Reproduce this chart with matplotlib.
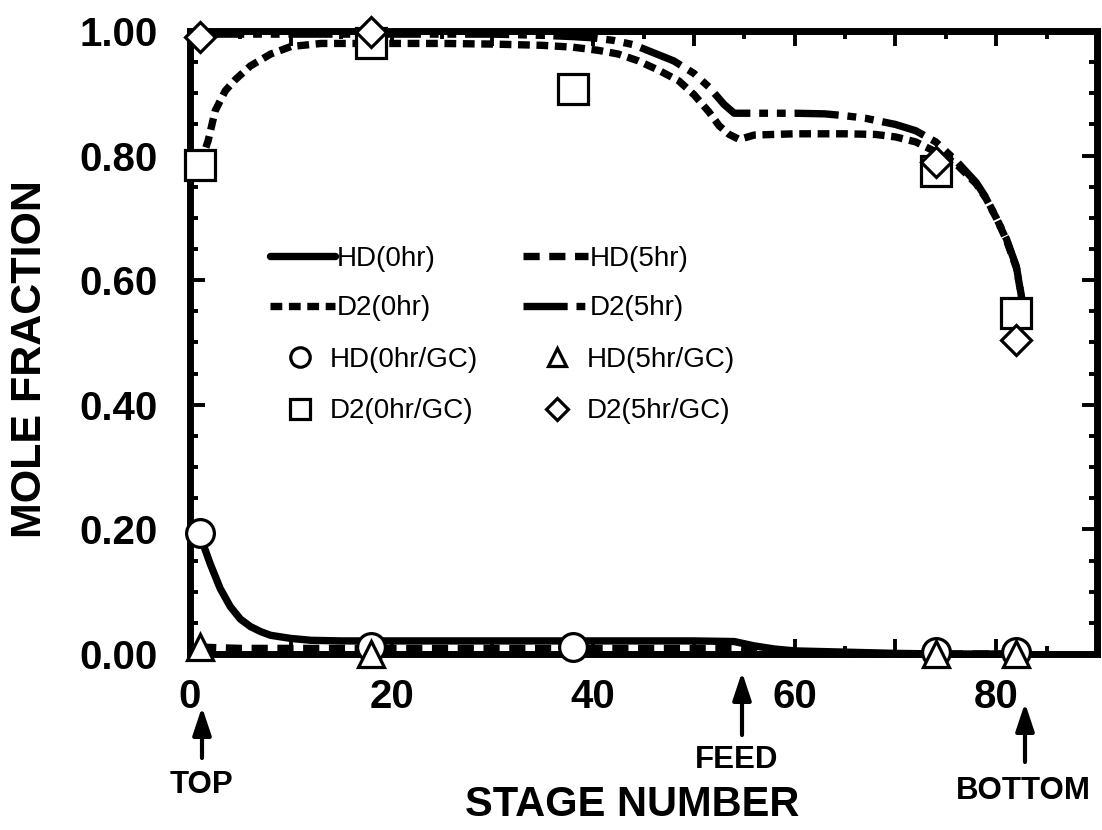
import numpy as np
import matplotlib
matplotlib.use("Agg")
import matplotlib.pyplot as plt
from matplotlib.ticker import MultipleLocator, FuncFormatter

plt.rcParams['font.family'] = ['Liberation Sans', 'DejaVu Sans']

# ---------------- data ----------------
hd0_x = [1, 2, 3, 4, 5, 6, 7, 8, 10, 12, 15, 20, 30, 40, 50, 54, 56, 58, 60, 65, 70, 75, 80, 83]
hd0_y = [0.19, 0.145, 0.105, 0.076, 0.056, 0.044, 0.036, 0.030, 0.025, 0.022, 0.021, 0.021, 0.021,
         0.021, 0.021, 0.020, 0.013, 0.008, 0.005, 0.003, 0.001, 0.0, 0.0, 0.0]

hd5_x = [1, 5, 10, 20, 30, 40, 50, 54, 56, 58, 60, 70, 83]
hd5_y = [0.011, 0.009, 0.009, 0.009, 0.009, 0.009, 0.009, 0.009, 0.006, 0.003, 0.001, 0.0, 0.0]

d20_x = [1, 1.8, 2.5, 3.5, 4.5, 6, 8, 10, 13, 18, 25, 30, 35, 38, 40.5, 42.5, 44.5, 46.5, 48.5,
         50, 51.5, 52.5, 53.5, 54.5, 56, 60, 65, 68, 70, 72, 74, 76, 78, 79, 80, 81, 82, 82.6]
d20_y = [0.785, 0.824, 0.872, 0.904, 0.922, 0.944, 0.963, 0.975, 0.98, 0.98, 0.98, 0.979, 0.977,
         0.974, 0.969, 0.963, 0.952, 0.937, 0.92, 0.898, 0.87, 0.848, 0.834, 0.826, 0.833, 0.835,
         0.835, 0.834, 0.830, 0.822, 0.806, 0.787, 0.755, 0.731, 0.700, 0.665, 0.620, 0.565]

d25_x = [1, 5, 10, 20, 30, 35, 38, 40, 42, 44, 46, 48, 50, 51.5, 53, 54, 56, 60, 63, 65, 67, 70,
         72, 74, 76, 78, 79, 80, 81, 82, 82.6]
d25_y = [0.995, 0.995, 0.995, 0.995, 0.995, 0.993, 0.991, 0.989, 0.985, 0.978, 0.965, 0.952, 0.932,
         0.91, 0.882, 0.868, 0.868, 0.868, 0.867, 0.864, 0.860, 0.850, 0.840, 0.822, 0.792, 0.757,
         0.732, 0.700, 0.667, 0.622, 0.565]

hd0_gc_x = [1, 18, 38, 74, 82]
hd0_gc_y = [0.195, 0.011, 0.012, 0.003, 0.003]
hd5_gc_x = [1, 18, 74, 82]
hd5_gc_y = [0.012, 0.0, 0.0, 0.0]
d20_gc_x = [1, 18, 38, 74, 82]
d20_gc_y = [0.785, 0.98, 0.907, 0.776, 0.547]
d25_gc_x = [1, 18, 74, 82]
d25_gc_y = [0.99, 0.998, 0.789, 0.504]

x_major = [0, 20, 40, 60, 80]

# ---------------- figure ----------------
W, H = 1102, 830
fig = plt.figure(figsize=(W / 100, H / 100), dpi=100)
fig.patch.set_facecolor('white')
ax = fig.add_axes([190 / W, 1 - 654 / H, 907 / W, 623 / H])

LW = 5.3
l_hd0, = ax.plot(hd0_x, hd0_y, color='black', lw=LW, solid_capstyle='round', clip_on=False, zorder=3)
l_hd5, = ax.plot(hd5_x, hd5_y, color='black', lw=LW, dashes=(2.2, 1.3), dash_capstyle='butt',
                 clip_on=False, zorder=3)
l_d20, = ax.plot(d20_x, d20_y, color='black', lw=LW, dashes=(1.6, 0.9), dash_capstyle='butt',
                 clip_on=False, zorder=3)
l_d25, = ax.plot(d25_x, d25_y, color='black', lw=LW, dashes=(6, 1.2, 1.2, 1.2, 1.2, 1.2),
                 dash_capstyle='butt', clip_on=False, zorder=3)

mk = dict(color='black', markerfacecolor='white', markeredgecolor='black', markeredgewidth=2.3,
          linestyle='none', clip_on=False, zorder=5)
m_hd0, = ax.plot(hd0_gc_x, hd0_gc_y, marker='o', markersize=20, **mk)
m_hd5, = ax.plot(hd5_gc_x, hd5_gc_y, marker='^', markersize=19, **mk)
m_d20, = ax.plot(d20_gc_x, d20_gc_y, marker='s', markersize=21, **mk)
m_d25, = ax.plot(d25_gc_x, d25_gc_y, marker='D', markersize=15.5, **mk)

ax.set_xlim(0, 90)
ax.set_ylim(0, 1.0)
ax.xaxis.set_major_locator(MultipleLocator(10))
ax.xaxis.set_minor_locator(MultipleLocator(5))
ax.yaxis.set_major_locator(MultipleLocator(0.2))
ax.yaxis.set_minor_locator(MultipleLocator(0.05))
ax.xaxis.set_major_formatter(FuncFormatter(lambda v, p: f"{int(round(v))}" if int(round(v)) in x_major else ""))
ax.yaxis.set_major_formatter(FuncFormatter(lambda v, p: f"{v:.2f}"))

for s in ax.spines.values():
    s.set_linewidth(5)
ax.tick_params(which='both', direction='in', top=True, right=True, width=2.8, color='black')
ax.tick_params(which='major', length=11)
ax.tick_params(which='minor', length=6)
ax.tick_params(axis='x', which='major', pad=17, labelsize=29)
ax.tick_params(axis='y', which='major', pad=23, labelsize=29)
for lab in ax.get_xticklabels() + ax.get_yticklabels():
    lab.set_fontweight('bold')

# ---------------- legends ----------------
FS = 20
leg1 = ax.legend([l_hd0, l_d20, l_hd5, l_d25], ['HD(0hr)', 'D2(0hr)', 'HD(5hr)', 'D2(5hr)'],
                 ncol=2, loc='upper left', bbox_to_anchor=(270 / W, 1 - 246 / H),
                 bbox_transform=fig.transFigure, frameon=False, borderpad=0, borderaxespad=0,
                 fontsize=FS, handlelength=2.34, handletextpad=0.05, columnspacing=3.17,
                 labelspacing=0.84)
ax.add_artist(leg1)
leg2 = ax.legend([m_hd0, m_d20, m_hd5, m_d25], ['HD(0hr/GC)', 'D2(0hr/GC)', 'HD(5hr/GC)', 'D2(5hr/GC)'],
                 ncol=2, loc='upper left', bbox_to_anchor=(286 / W, 1 - 347 / H),
                 bbox_transform=fig.transFigure, frameon=False, borderpad=0, borderaxespad=0,
                 fontsize=FS, handlelength=1.0, handletextpad=0.58, columnspacing=2.34,
                 labelspacing=0.91, markerscale=0.7, numpoints=1)

# ---------------- labels & annotations ----------------
fig.text(30 / W, 1 - 359 / H, 'MOLE FRACTION', rotation=90, ha='center', va='center',
         fontsize=31, fontweight='bold')
fig.text(632 / W, 1 - 805 / H, 'STAGE NUMBER', ha='center', va='center',
         fontsize=30, fontweight='bold')

arrow = dict(arrowstyle='-|>,head_length=0.6,head_width=0.2', color='black', lw=3,
             mutation_scale=28, shrinkA=0, shrinkB=0)
notes = [('TOP', 202, 785, 202, 758, 707),
         ('FEED', 737, 760, 742, 735, 672),
         ('BOTTOM', 1023, 791, 1025, 762, 703)]
for txt, tx, ty, axx, y0, y1 in notes:
    fig.text(tx / W, 1 - ty / H, txt, ha='center', va='center', fontsize=22.5, fontweight='bold')
    ax.annotate('', xy=(axx, H - y1), xytext=(axx, H - y0), xycoords='figure pixels',
                textcoords='figure pixels', arrowprops=arrow, annotation_clip=False)

fig.savefig('out.png', dpi=100, facecolor='white')
